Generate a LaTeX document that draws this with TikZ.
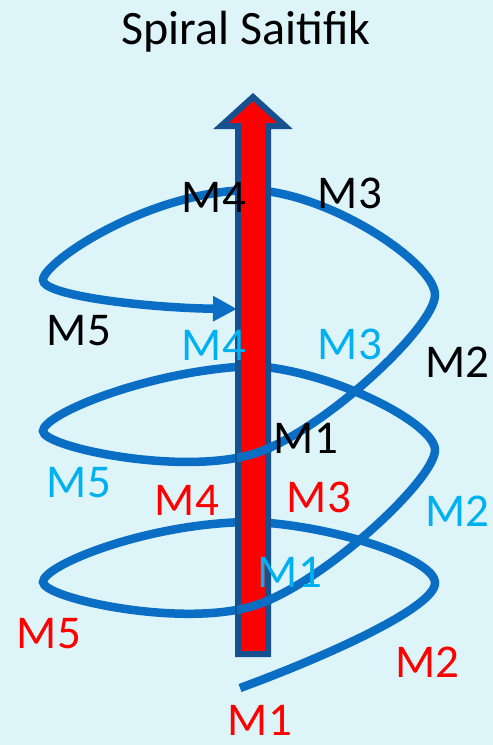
\documentclass[tikz,border=0pt]{standalone}
\usepackage{fontspec}
\setmainfont{Carlito}
\usetikzlibrary{arrows.meta}
\definecolor{bgc}{RGB}{221,244,249}
\definecolor{spiralc}{RGB}{10,110,196}
\definecolor{shaftc}{RGB}{22,80,142}
\definecolor{cyanc}{RGB}{0,176,240}
\definecolor{redc}{RGB}{255,0,0}
\begin{document}
\begin{tikzpicture}[x=1pt,y=-1pt,
  spiral/.style={draw=spiralc,line width=8.5pt},
  lbl/.style={inner sep=0pt,font=\fontsize{47}{56}\selectfont}]
\fill[bgc] (0,0) rectangle (493,745);
\useasboundingbox (0,0) rectangle (493,745);
% key points of the spiral
\coordinate (P0) at (240,688);
\coordinate (R1) at (435,583);
\coordinate (T1) at (253,522);
\coordinate (L1) at (43,582);
\coordinate (F1) at (253,606);
\coordinate (R2) at (435,450);
\coordinate (T2) at (253,366);
\coordinate (L2) at (43,431);
\coordinate (F2) at (253,454);
\coordinate (R3) at (435,295);
\coordinate (T3) at (253,190);
\coordinate (L3) at (43,280);
\coordinate (E) at (237,309);
% spiral (behind the arrow)
\draw[spiral,-{Triangle[length=24pt,width=24pt]}]
 (P0) .. controls (330,655) and (435,607) .. (R1)
 .. controls (435,558) and (330,525) .. (T1)
 .. controls (150,522) and (43,565) .. (L1)
 .. controls (43,598) and (180,628) .. (F1)
 .. controls (320,586) and (435,480) .. (R2)
 .. controls (435,423) and (330,370) .. (T2)
 .. controls (150,370) and (43,414) .. (L2)
 .. controls (43,447) and (180,476) .. (F2)
 .. controls (320,434) and (435,327) .. (R3)
 .. controls (435,263) and (330,193) .. (T3)
 .. controls (150,190) and (43,262) .. (L3)
 .. controls (43,296) and (150,308) .. (E);
% the big arrow
\draw[fill=redc,draw=shaftc,line width=6pt,miter limit=10]
 (238,654) -- (238,126) -- (221,126) -- (253,97) -- (285,126) -- (268,126) -- (268,654) -- cycle;
% front crossings
\begin{scope}
\clip (237,588) rectangle (272,628);
\draw[spiral] (L1) .. controls (43,598) and (180,628) .. (F1)
 .. controls (320,586) and (435,480) .. (R2);
\end{scope}
\begin{scope}
\clip (237,436) rectangle (272,476);
\draw[spiral] (L2) .. controls (43,447) and (180,476) .. (F2)
 .. controls (320,434) and (435,327) .. (R3);
\end{scope}
% title
\node[font=\fontsize{48}{58}\selectfont,anchor=base] (title) at (246,44) {Spiral Saitifik};
% black labels
\node[lbl] (m4k) at (214,197) {M4};
\node[lbl] (m3k) at (350,193) {M3};
\node[lbl] (m5k) at (79,331) {M5};
\node[lbl] (m2k) at (457,362) {M2};
\node[lbl] (m1k) at (306,438) {M1};
% cyan labels
\node[lbl,text=cyanc] (m4c) at (214,345) {M4};
\node[lbl,text=cyanc] (m3c) at (350,344) {M3};
\node[lbl,text=cyanc] (m5c) at (79,483) {M5};
\node[lbl,text=cyanc] (m2c) at (457,511) {M2};
\node[lbl,text=cyanc] (m1c) at (290,572) {M1};
% red labels
\node[lbl,text=redc] (m4r) at (187,500) {M4};
\node[lbl,text=redc] (m3r) at (319,497) {M3};
\node[lbl,text=redc] (m5r) at (49,634) {M5};
\node[lbl,text=redc] (m2r) at (427,662) {M2};
\node[lbl,text=redc] (m1r) at (260,720) {M1};
\end{tikzpicture}
\end{document}
